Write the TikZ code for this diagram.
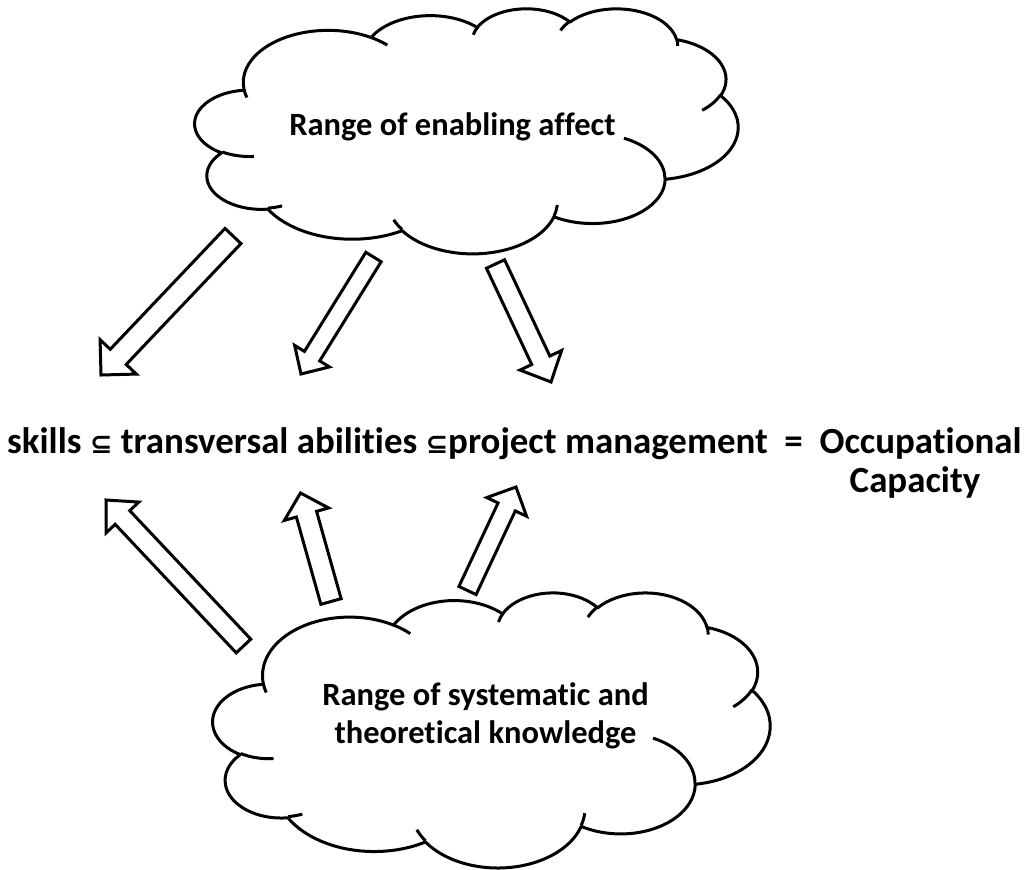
\documentclass[tikz,border=0pt]{standalone}
\usepackage{fontspec}
\setmainfont{Carlito}[Ligatures=CommonOff]
\newfontfamily\symf{DejaVu Sans}
\usetikzlibrary{calc}

\tikzset{
  cloudline/.style={line width=3pt, draw=black, fill=white, line join=round},
  tickline/.style={line width=3pt, draw=black},
  blockarr/.style={line width=3pt, draw=black, fill=white, line join=miter},
  cloudlbl/.style={inner sep=0pt, align=center, font=\bfseries\fontsize{32.5}{38.3}\selectfont},
  mainlbl/.style={inner sep=0pt, font=\bfseries\fontsize{36.9}{42}\selectfont}
}

% one elliptic arc of the cloud, angles given as visual angles (DrawingML arcTo)
\newcommand\cloudarc[4]{%
  \pgfextra{%
    \pgfmathsetmacro\cta{atan2(#1*sin(#3),#2*cos(#3))}%
    \pgfmathsetmacro\ctb{atan2(#1*sin(#3+#4),#2*cos(#3+#4))}%
    \pgfmathsetmacro\ctb{\cta+mod(\ctb-\cta+720,360)}%
  }
  arc[start angle=\cta, end angle=\ctb, x radius=#1, y radius=#2]}

\newcommand\cloudoutline{%
  (39.00,143.70)
  \cloudarc{67.53}{91.90}{-190.487483}{123.780533}
  \cloudarc{53.33}{72.67}{-144.102383}{89.945233}
  \cloudarc{43.65}{59.45}{-145.807917}{99.723017}
  \cloudarc{48.57}{65.95}{-130.986067}{117.241733}
  \cloudarc{53.33}{72.73}{-78.708883}{109.026917}
  \cloudarc{67.75}{92.20}{-46.26725}{130.269}
  \cloudarc{57.85}{78.67}{0.625017}{114.033333}
  \cloudarc{67.52}{92.15}{22.4516}{115.17255}
  \cloudarc{77.20}{105.43}{66.242633}{75.711017}
  \cloudarc{43.60}{59.18}{-274.942083}{146.735567}
  \cloudarc{43.45}{59.45}{-246.8285}{152.51885}
  -- cycle}

\newcommand\cloudticks{%
  (46.93,261.77) \cloudarc{43.45}{59.45}{86.742}{26.4295}
  (69.28,348.99) \cloudarc{43.60}{59.18}{73.610467}{11.447467}
  (164.78,390.90) \cloudarc{67.52}{92.15}{137.62415}{14.0811}
  (288.27,347.51) \cloudarc{67.52}{92.15}{6.453267}{15.99835}
  (341.29,229.54) \cloudarc{57.85}{78.67}{-70.29235}{70.917367}
  (417.98,153.54) \cloudarc{53.33}{72.73}{30.318033}{27.7515}
  (383.24,54.26) \cloudarc{48.57}{65.95}{-13.744333}{14.8589}
  (290.78,39.52) \cloudarc{48.57}{65.95}{-149.18145}{18.195367}
  (221.41,47.20) \cloudarc{43.65}{59.45}{-163.494267}{17.68635}
  (140.00,51.92) \cloudarc{67.53}{91.90}{-66.70695}{12.31935}
  (41.27,157.89) \cloudarc{67.53}{91.90}{157.65435}{11.858167}}

% block arrow: tail, tip, half shaft width, half head width, head length
\newcommand\blockarrow[5]{%
  \coordinate (h-#1) at ($(#2)!#5!(#1)$);
  \draw[blockarr] ($(#1)!#3!90:(#2)$) -- ($(h-#1)!#3!90:(#2)$) -- ($(h-#1)!#4!90:(#2)$)
    -- (#2) -- ($(h-#1)!#4!-90:(#2)$) -- ($(h-#1)!#3!-90:(#2)$) -- ($(#1)!#3!-90:(#2)$) -- cycle;
}

\begin{document}
\begin{tikzpicture}[x=1pt,y=-1pt]
\useasboundingbox (0,0) rectangle (1036,870);
\fill[white] (0,0) rectangle (1036,870);

% top cloud
\begin{scope}[shift={(195,8)}, x=1.25694pt, y=-0.56713pt]
  \draw[cloudline] \cloudoutline;
  \draw[tickline] \cloudticks;
\end{scope}
\node[cloudlbl, anchor=base] (affect) at (452.4,135) {Range of enabling affect};

% bottom cloud
\begin{scope}[shift={(213,592)}, x=1.28935pt, y=-0.63657pt]
  \draw[cloudline] \cloudoutline;
  \draw[tickline] \cloudticks;
\end{scope}
\node[cloudlbl, anchor=base] (knowledge) at (485.5,743.3) {Range of systematic and\\theoretical knowledge};

% main line
\node[mainlbl, anchor=base west] (eq) at (7,453)
  {skills {\symf\fontsize{27}{30}\selectfont ⊆} transversal abilities {\symf\fontsize{27}{30}\selectfont ⊆}project management\ \ =\ \ Occupational};
\node[mainlbl, anchor=base] (cap) at (915,492) {Capacity};

% arrows from top cloud
\coordinate (a1t) at (233,236);   \coordinate (a1p) at (101,375);
\coordinate (a2t) at (373.5,257); \coordinate (a2p) at (301,374);
\coordinate (a3t) at (495.5,264); \coordinate (a3p) at (551,382);
\blockarrow{a1t}{a1p}{11pt}{25pt}{25pt}
\blockarrow{a2t}{a2p}{9pt}{20.5pt}{21pt}
\blockarrow{a3t}{a3p}{10pt}{23pt}{24pt}

% arrows from bottom cloud
\coordinate (a4t) at (243.5,646); \coordinate (a4p) at (106,500);
\coordinate (a5t) at (331,601.5); \coordinate (a5p) at (300.5,493);
\coordinate (a6t) at (467.5,590.5); \coordinate (a6p) at (516,487);
\blockarrow{a4t}{a4p}{10pt}{22.5pt}{24pt}
\blockarrow{a5t}{a5p}{10.5pt}{23pt}{22pt}
\blockarrow{a6t}{a6p}{9.5pt}{22pt}{22pt}
\end{tikzpicture}
\end{document}
